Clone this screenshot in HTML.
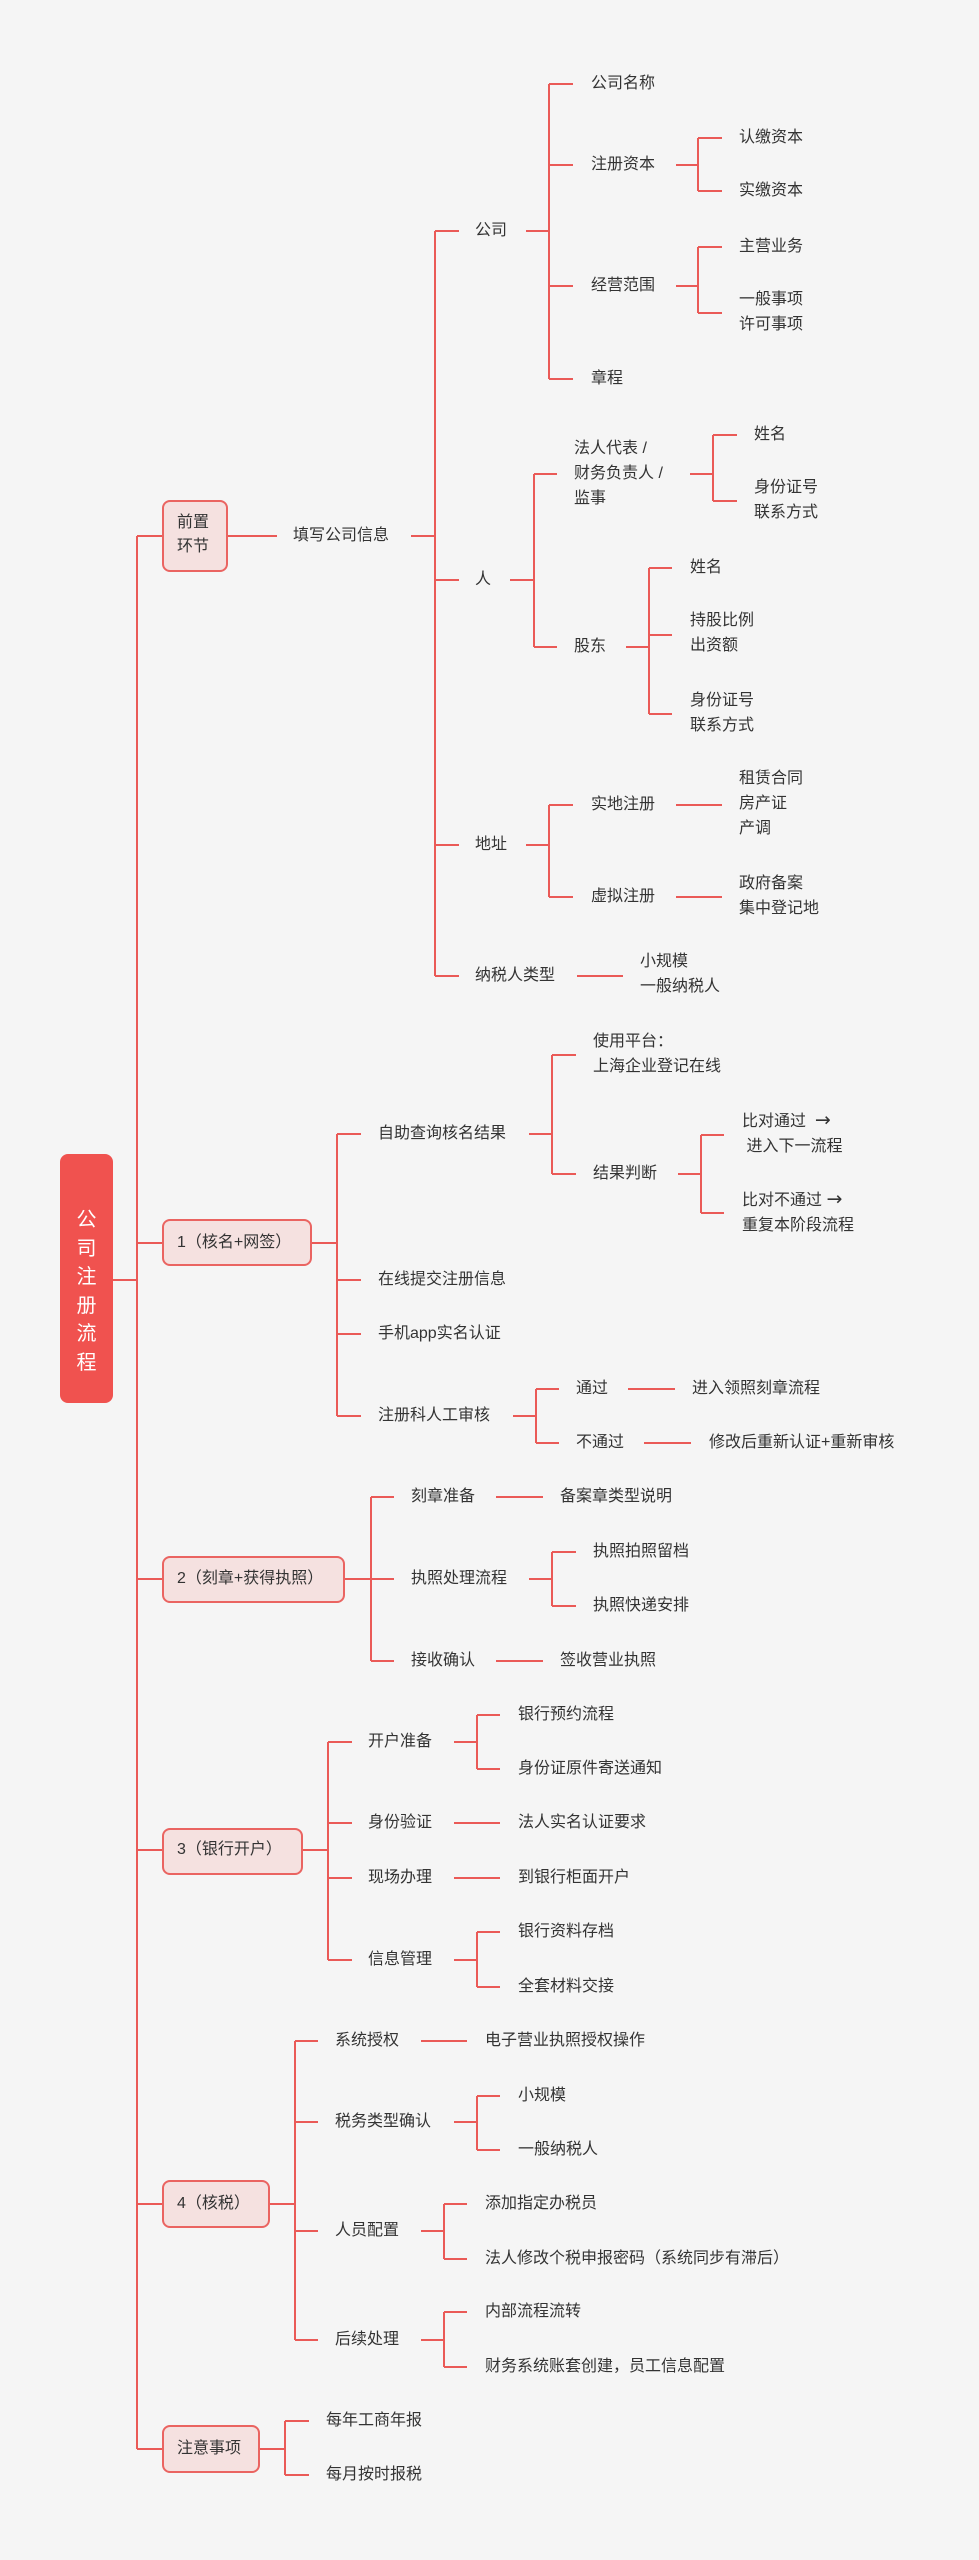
<!DOCTYPE html>
<html><head><meta charset="utf-8"><style>
html,body{margin:0;padding:0}
body{width:979px;height:2560px;background:#f5f5f5;position:relative;overflow:hidden;font-family:"Liberation Sans","Noto Sans CJK SC",sans-serif;color:#333}
.t{position:absolute;font-size:16px;line-height:25px;white-space:nowrap}
.a{font-family:"DejaVu Sans",sans-serif;font-size:19px}
.b{position:absolute;background:#f5e1e0;border:2px solid #ea6461;border-radius:8px;box-sizing:border-box}
.root{position:absolute;left:60px;top:1154px;width:53px;height:249px;background:#f0524f;border-radius:8px;color:#fff;font-size:20px;line-height:28.6px;text-align:center;padding-top:52px;box-sizing:border-box}
svg{position:absolute;left:0;top:0}
</style></head><body>
<svg width="979" height="2560"><path fill="none" stroke="#ea5a57" stroke-width="2" d="
M137 536V2449 M137 536H162 M137 1243H162 M137 1579H162 M137 1850H162 M137 2204H162 M137 2449H162 M113 1280H137
M228 536H277 M411 536H435 M435 231V976 M435 231H459 M435 580H459 M435 845H459 M435 976H459
M526 231H549 M549 84V379 M549 84H573 M549 165H573 M549 286H573 M549 379H573
M676 165H698 M698 138V191 M698 138H722 M698 191H722
M676 286H698 M698 247V313 M698 247H722 M698 313H722
M510 580H534 M534 474V647 M534 474H557 M534 647H557
M690 474H713 M713 435V501 M713 435H737 M713 501H737
M626 647H649 M649 568V714 M649 568H672 M649 635H672 M649 714H672
M526 845H549 M549 805V897 M549 805H573 M549 897H573 M676 805H722 M676 897H722
M577 976H623
M312 1243H337 M337 1134V1416 M337 1134H361 M337 1280H361 M337 1334H361 M337 1416H361
M529 1134H552 M552 1055V1174 M552 1055H576 M552 1174H576
M678 1174H701 M701 1135V1213 M701 1135H724 M701 1213H724
M513 1416H536 M536 1389V1443 M536 1389H559 M536 1443H559 M628 1389H675 M644 1443H691
M345 1579H371 M371 1497V1661 M371 1497H394 M371 1579H394 M371 1661H394
M496 1497H543 M529 1579H552 M552 1552V1606 M552 1552H576 M552 1606H576 M496 1661H543
M303 1850H328 M328 1742V1960 M328 1742H352 M328 1823H352 M328 1878H352 M328 1960H352
M454 1742H477 M477 1715V1769 M477 1715H500 M477 1769H500 M454 1823H500 M454 1878H500
M454 1960H477 M477 1932V1987 M477 1932H500 M477 1987H500
M270 2204H295 M295 2041V2340 M295 2041H318 M295 2122H318 M295 2231H318 M295 2340H318
M421 2041H467 M454 2122H477 M477 2096V2150 M477 2096H500 M477 2150H500
M421 2231H444 M444 2204V2259 M444 2204H467 M444 2259H467
M421 2340H444 M444 2312V2367 M444 2312H467 M444 2367H467
M260 2449H285 M285 2421V2475 M285 2421H309 M285 2475H309
"/></svg>
<div class="root">公<br>司<br>注<br>册<br>流<br>程</div>
<div class="b" style="left:162px;top:500px;width:66px;height:72px"></div>
<div class="t" style="left:177px;top:511px;line-height:24px">前置<br>环节</div>
<div class="b" style="left:162px;top:1219px;width:150px;height:47px"></div>
<div class="t" style="left:177px;top:1230px">1（核名+网签）</div>
<div class="b" style="left:162px;top:1556px;width:183px;height:47px"></div>
<div class="t" style="left:177px;top:1566px">2（刻章+获得执照）</div>
<div class="b" style="left:162px;top:1828px;width:141px;height:47px"></div>
<div class="t" style="left:177px;top:1837px">3（银行开户）</div>
<div class="b" style="left:162px;top:2180px;width:108px;height:48px"></div>
<div class="t" style="left:177px;top:2191px">4（核税）</div>
<div class="b" style="left:162px;top:2425px;width:98px;height:48px"></div>
<div class="t" style="left:177px;top:2436px">注意事项</div>

<div class="t" style="left:293px;top:523px">填写公司信息</div>
<div class="t" style="left:475px;top:218px">公司</div>
<div class="t" style="left:475px;top:567px">人</div>
<div class="t" style="left:475px;top:832px">地址</div>
<div class="t" style="left:475px;top:963px">纳税人类型</div>
<div class="t" style="left:591px;top:71px">公司名称</div>
<div class="t" style="left:591px;top:152px">注册资本</div>
<div class="t" style="left:591px;top:273px">经营范围</div>
<div class="t" style="left:591px;top:366px">章程</div>
<div class="t" style="left:739px;top:125px">认缴资本</div>
<div class="t" style="left:739px;top:178px">实缴资本</div>
<div class="t" style="left:739px;top:234px">主营业务</div>
<div class="t" style="left:739px;top:287px">一般事项<br>许可事项</div>
<div class="t" style="left:574px;top:436px">法人代表 /<br>财务负责人 /<br>监事</div>
<div class="t" style="left:574px;top:634px">股东</div>
<div class="t" style="left:754px;top:422px">姓名</div>
<div class="t" style="left:754px;top:475px">身份证号<br>联系方式</div>
<div class="t" style="left:690px;top:555px">姓名</div>
<div class="t" style="left:690px;top:608px">持股比例<br>出资额</div>
<div class="t" style="left:690px;top:688px">身份证号<br>联系方式</div>
<div class="t" style="left:591px;top:792px">实地注册</div>
<div class="t" style="left:591px;top:884px">虚拟注册</div>
<div class="t" style="left:739px;top:766px">租赁合同<br>房产证<br>产调</div>
<div class="t" style="left:739px;top:871px">政府备案<br>集中登记地</div>
<div class="t" style="left:640px;top:949px">小规模<br>一般纳税人</div>

<div class="t" style="left:378px;top:1121px">自助查询核名结果</div>
<div class="t" style="left:378px;top:1267px">在线提交注册信息</div>
<div class="t" style="left:378px;top:1321px">手机app实名认证</div>
<div class="t" style="left:378px;top:1403px">注册科人工审核</div>
<div class="t" style="left:593px;top:1029px">使用平台：<br>上海企业登记在线</div>
<div class="t" style="left:593px;top:1161px">结果判断</div>
<div class="t" style="left:742px;top:1108px">比对通过 &nbsp;<span class="a">→</span><br>&nbsp;进入下一流程</div>
<div class="t" style="left:742px;top:1187px">比对不通过 <span class="a">→</span><br>重复本阶段流程</div>
<div class="t" style="left:576px;top:1376px">通过</div>
<div class="t" style="left:576px;top:1430px">不通过</div>
<div class="t" style="left:692px;top:1376px">进入领照刻章流程</div>
<div class="t" style="left:709px;top:1430px">修改后重新认证+重新审核</div>

<div class="t" style="left:411px;top:1484px">刻章准备</div>
<div class="t" style="left:411px;top:1566px">执照处理流程</div>
<div class="t" style="left:411px;top:1648px">接收确认</div>
<div class="t" style="left:560px;top:1484px">备案章类型说明</div>
<div class="t" style="left:593px;top:1539px">执照拍照留档</div>
<div class="t" style="left:593px;top:1593px">执照快递安排</div>
<div class="t" style="left:560px;top:1648px">签收营业执照</div>

<div class="t" style="left:368px;top:1729px">开户准备</div>
<div class="t" style="left:368px;top:1810px">身份验证</div>
<div class="t" style="left:368px;top:1865px">现场办理</div>
<div class="t" style="left:368px;top:1947px">信息管理</div>
<div class="t" style="left:518px;top:1702px">银行预约流程</div>
<div class="t" style="left:518px;top:1756px">身份证原件寄送通知</div>
<div class="t" style="left:518px;top:1810px">法人实名认证要求</div>
<div class="t" style="left:518px;top:1865px">到银行柜面开户</div>
<div class="t" style="left:518px;top:1919px">银行资料存档</div>
<div class="t" style="left:518px;top:1974px">全套材料交接</div>

<div class="t" style="left:335px;top:2028px">系统授权</div>
<div class="t" style="left:335px;top:2109px">税务类型确认</div>
<div class="t" style="left:335px;top:2218px">人员配置</div>
<div class="t" style="left:335px;top:2327px">后续处理</div>
<div class="t" style="left:485px;top:2028px">电子营业执照授权操作</div>
<div class="t" style="left:518px;top:2083px">小规模</div>
<div class="t" style="left:518px;top:2137px">一般纳税人</div>
<div class="t" style="left:485px;top:2191px">添加指定办税员</div>
<div class="t" style="left:485px;top:2246px">法人修改个税申报密码（系统同步有滞后）</div>
<div class="t" style="left:485px;top:2299px">内部流程流转</div>
<div class="t" style="left:485px;top:2354px">财务系统账套创建，员工信息配置</div>
<div class="t" style="left:326px;top:2408px">每年工商年报</div>
<div class="t" style="left:326px;top:2462px">每月按时报税</div>
</body></html>
